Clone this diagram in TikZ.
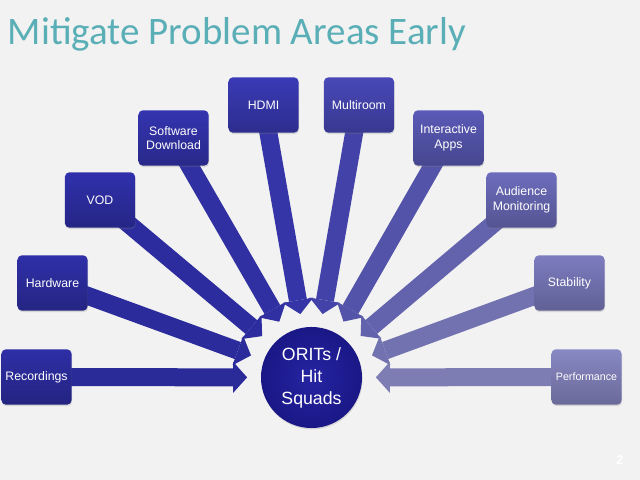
\documentclass[tikz,border=0pt]{standalone}
\usepackage{fontspec}
\setmainfont{Liberation Sans}
\newfontfamily\titlefont{Carlito}
\usepackage{tikz}
\usetikzlibrary{calc,arrows.meta,shadows}
\definecolor{page}{HTML}{F2F2F2}
\definecolor{title}{HTML}{5AAFB7}
\definecolor{hubin}{HTML}{2624A2}
\definecolor{hubout}{HTML}{1A1786}
\definecolor{c1}{HTML}{2E2EA6}
\definecolor{c2}{HTML}{2F2FA8}
\definecolor{c3}{HTML}{3030AC}
\definecolor{c4}{HTML}{3434B0}
\definecolor{c5}{HTML}{3A3AB6}
\definecolor{c6}{HTML}{4848B8}
\definecolor{c7}{HTML}{5A5AB8}
\definecolor{c8}{HTML}{6C6CBC}
\definecolor{c9}{HTML}{7C7CC0}
\definecolor{c10}{HTML}{8888C4}
\pgfdeclarelayer{back}
\pgfsetlayers{back,main}
\tikzset{
  area/.style={rounded corners=3pt, minimum width=1.75cm, minimum height=1.38cm,
    inner xsep=1pt, align=center, text=white, font=\fontsize{8.75}{10.5}\selectfont,
    top color=#1, bottom color=#1!78!black,
    drop shadow={shadow xshift=0.4pt, shadow yshift=-1pt, opacity=0.25}},
  feed/.style={draw=#1!92!black, line width=0.45cm,
    -{Triangle[length=0.35cm,width=0.78cm,line width=0pt]}, shorten >=0.34cm},
  hubnode/.style={circle, minimum size=2.525cm, inner sep=0pt, align=center,
    inner color=hubin, outer color=hubout, text=white,
    font=\fontsize{12.6}{15.6}\selectfont,
    drop shadow={shadow xshift=0.4pt, shadow yshift=-1pt, opacity=0.25}},
  heading/.style={anchor=base west, text=title, font=\titlefont\fontsize{27.7}{30}\selectfont},
}
\begin{document}
\begin{tikzpicture}[x=0.025cm,y=0.025cm]
  \begin{pgfonlayer}{back}
    \fill[page] (0,0) rectangle (640,480);
  \end{pgfonlayer}
  \node[heading] (head) at (3,435) {Mitigate Problem Areas Early};
  \node[hubnode] (hub) at (311.5,102.5) {ORITs /\\Hit\\Squads};
  % problem areas, left to right
  \foreach \name/\x/\y/\col/\txt in {
      rec/36.5/103/c1/Recordings,
      hw/52.5/197/c2/Hardware,
      vod/100/280/c3/VOD,
      sw/173.5/342/c4/{Software\\Download},
      hdmi/263.5/375/c5/HDMI,
      multi/359/375/c6/Multiroom,
      apps/448.5/342/c7/{Interactive\\Apps},
      aud/521.5/280/c8/{Audience\\Monitoring},
      stab/569.5/197/c9/Stability,
      perf/586.5/103/c10/{\fontsize{7.6}{9}\selectfont Performance}}
    \node[area=\col] (\name) at (\x,\y) {\txt};
  \begin{pgfonlayer}{back}
    \foreach \name/\col in {rec/c1,hw/c2,vod/c3,sw/c4,hdmi/c5,
                            multi/c6,apps/c7,aud/c8,stab/c9,perf/c10}
      \draw[feed=\col] (\name.center) -- (hub);
  \end{pgfonlayer}
  \node[text=white, font=\fontsize{9}{10}\selectfont\bfseries] (pnum) at (620,20) {2};
\end{tikzpicture}
\end{document}
